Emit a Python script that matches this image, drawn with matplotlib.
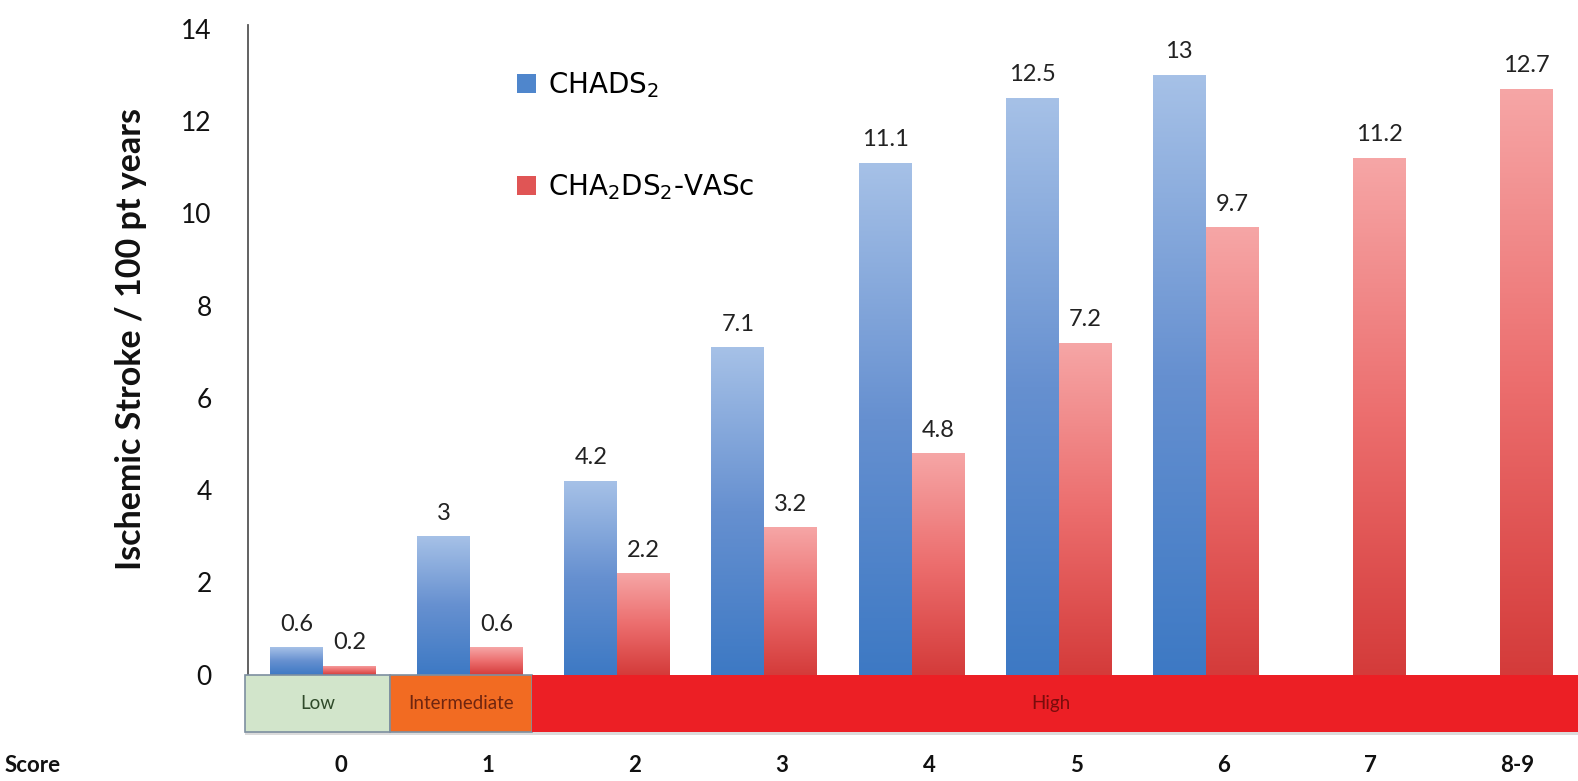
import numpy as np
import matplotlib
matplotlib.use('Agg')
import matplotlib.pyplot as plt
from matplotlib.patches import Rectangle, Patch
from matplotlib.colors import LinearSegmentedColormap
from matplotlib.font_manager import FontProperties
from matplotlib.transforms import blended_transform_factory

plt.rcParams['font.family'] = ['Lato', 'DejaVu Sans']

# ---- data ----
categories = ['0', '1', '2', '3', '4', '5', '6', '7', '8-9']
chads2 = [0.6, 3, 4.2, 7.1, 11.1, 12.5, 13, None, None]
cha2ds2_vasc = [0.2, 0.6, 2.2, 3.2, 4.8, 7.2, 9.7, 11.2, 12.7]
series_names = ['CHADS$_2$', 'CHA$_2$DS$_2$-VASc']
yticks = [0, 2, 4, 6, 8, 10, 12, 14]
risk_groups = ['Low', 'Intermediate', 'High']
ylabel = 'Ischemic Stroke / 100 pt years'
score_title = 'Score'

# ---- styling ----
W, H = 1578, 781
fig = plt.figure(figsize=(W / 100, H / 100), dpi=100)
ax = fig.add_axes([248 / W, 1 - 732 / H, 1 - 248 / W, (732 - 25) / H])

blue_cmap = LinearSegmentedColormap.from_list('b', ['#3d79c4', '#6690d0', '#a6c1e7'])
red_cmap = LinearSegmentedColormap.from_list('r', ['#d43b3a', '#ec6e6e', '#f6a6a6'])
blue_solid = '#4f86cc'
red_solid = '#e05555'

bw = 0.36
x = np.arange(len(categories))
grad = np.linspace(0, 1, 256).reshape(-1, 1)


def gradient_bars(xs, vals, cmap, offset):
    xs_ok = [xi for xi, v in zip(xs, vals) if v is not None]
    v_ok = [v for v in vals if v is not None]
    bars = ax.bar(np.array(xs_ok) + offset, v_ok, width=bw, facecolor='none',
                  edgecolor='none', zorder=2)
    for b, v in zip(bars, v_ok):
        x0, y0 = b.get_x(), b.get_y()
        w, h = b.get_width(), b.get_height()
        im = ax.imshow(grad, extent=[x0, x0 + w, y0, y0 + h], cmap=cmap,
                       aspect='auto', origin='lower', zorder=2,
                       interpolation='bilinear')
        im.set_clip_path(b)
        ax.annotate('%g' % v, (x0 + w / 2, y0 + h), xytext=(0, 9),
                    textcoords='offset points', ha='center', va='bottom',
                    fontsize=17, color='#222222', zorder=4)
    return bars


gradient_bars(x, chads2, blue_cmap, -bw / 2)
gradient_bars(x, cha2ds2_vasc, red_cmap, bw / 2)

# ---- risk band ----
band_bottom = -1.24
band_specs = [(-0.53, 0.455, '#d2e5cb', '#2f4a2a'),
              (0.455, 1.42, '#f26b22', '#6e2510'),
              (1.42, 8.7, '#ec1f25', '#7a0c0c')]
ax.add_patch(Rectangle((-0.53, band_bottom - 0.07), 9.3, 0.07,
                       facecolor='#b9b9b9', edgecolor='none', alpha=0.5,
                       zorder=1, clip_on=False))
for (x0, x1, fc, tc), name in zip(band_specs, risk_groups):
    ax.add_patch(Rectangle((x0, band_bottom), x1 - x0, -band_bottom,
                           facecolor=fc,
                           edgecolor='#7d8fa0' if name != 'High' else 'none',
                           linewidth=1.2, zorder=3, clip_on=False))
    cx = (x0 + x1) / 2 if name != 'High' else 4.95
    ax.text(cx, band_bottom / 2, name, ha='center', va='center',
            fontsize=13.5, color=tc, zorder=4)

ax.set_xlim(-0.51, 8.53)
ax.set_ylim(band_bottom, 14.08)

ax.set_yticks(yticks)
ax.set_yticklabels([str(t) for t in yticks], fontsize=19, color='#111111')
ax.tick_params(axis='y', length=0, pad=26)
ax.set_xticks([])
for s in ['top', 'right', 'bottom']:
    ax.spines[s].set_visible(False)
ax.spines['left'].set_bounds(0, 14.08)
ax.spines['left'].set_color('#555555')
ax.spines['left'].set_linewidth(1.3)

# score row
score_y = 1 - 766 / H
trans = blended_transform_factory(ax.transData, fig.transFigure)
for xi, c in zip(x, categories):
    ax.text(xi + 0.12, score_y, c, transform=trans, fontsize=16,
            fontweight='bold', ha='center', va='center', clip_on=False,
            color='#111111')
fig.text(5 / W, score_y, score_title, fontsize=16, fontweight='bold',
         ha='left', va='center', color='#111111')

fig.text(131 / W, 1 - 339 / H, ylabel, rotation=90, ha='center', va='center',
         fontsize=24.5, fontweight='bold', color='#111111')

handles = [Patch(facecolor=blue_solid, edgecolor='none'),
           Patch(facecolor=red_solid, edgecolor='none')]
leg_font = FontProperties(family='DejaVu Sans', size=20,
                          math_fontfamily='dejavusans')
ax.legend(handles, series_names, loc='upper left',
          bbox_to_anchor=(517 / W, 1 - 70 / H), bbox_transform=fig.transFigure,
          frameon=False, prop=leg_font, handlelength=0.68, handleheight=0.68,
          handletextpad=0.45, labelspacing=2.6, borderpad=0, borderaxespad=0)

fig.savefig('out.png', dpi=100)
